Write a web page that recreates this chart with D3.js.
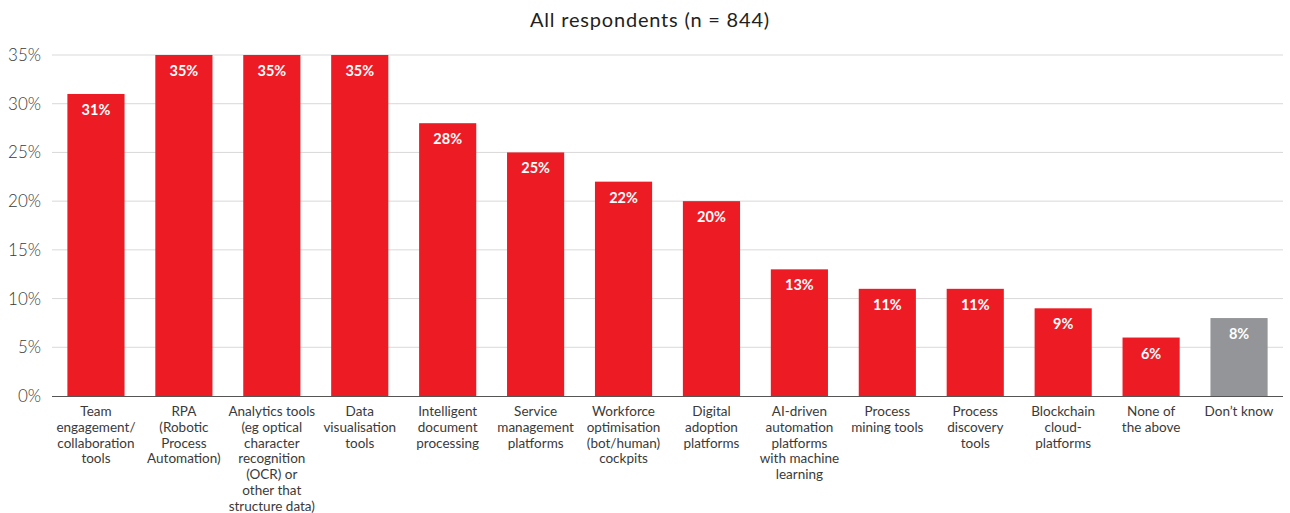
<!DOCTYPE html>
<html>
<head>
<meta charset="utf-8">
<script src="https://cdn.jsdelivr.net/npm/d3@7"></script>
<style>
  html, body { margin: 0; padding: 0; background: #fff; }
  svg { display: block; }
</style>
</head>
<body>
<svg id="chart" width="1290" height="513"></svg>
<script>
// Survey responses: share of respondents per technology
const categories = [
  ["Team", "engagement/", "collaboration", "tools"],
  ["RPA", "(Robotic", "Process", "Automation)"],
  ["Analytics tools", "(eg optical", "character", "recognition", "(OCR) or", "other that", "structure data)"],
  ["Data", "visualisation", "tools"],
  ["Intelligent", "document", "processing"],
  ["Service", "management", "platforms"],
  ["Workforce", "optimisation", "(bot/human)", "cockpits"],
  ["Digital", "adoption", "platforms"],
  ["AI-driven", "automation", "platforms", "with machine", "learning"],
  ["Process", "mining tools"],
  ["Process", "discovery", "tools"],
  ["Blockchain", "cloud-", "platforms"],
  ["None of", "the above"],
  ["Don\u2019t know"]
];
const values = [31, 35, 35, 35, 28, 25, 22, 20, 13, 11, 11, 9, 6, 8];
const yTicks = [0, 5, 10, 15, 20, 25, 30, 35];
const title = "All respondents (n = 844)";

const svg = d3.select("#chart");
const margin = { left: 52, right: 7, top: 55, bottom: 117 };
const W = 1290, H = 513;
const y0 = H - margin.bottom; // baseline

const x = d3.scaleBand()
  .domain(d3.range(values.length))
  .range([margin.left, W - margin.right])
  .paddingInner(0.35)
  .paddingOuter(0.175);

const y = d3.scaleLinear().domain([0, 35]).range([y0, margin.top]);

const font = "Lato, 'Open Sans', sans-serif";

// Title
svg.append("text")
  .attr("x", 650).attr("y", 27)
  .attr("text-anchor", "middle")
  .attr("font-family", font)
  .attr("font-size", 20)
  .attr("letter-spacing", 0.8)
  .attr("fill", "#231f20")
  .text(title);

// Gridlines
svg.append("g")
  .selectAll("line")
  .data(yTicks.filter(d => d > 0))
  .join("line")
  .attr("x1", margin.left).attr("x2", W - margin.right)
  .attr("y1", d => y(d)).attr("y2", d => y(d))
  .attr("stroke", "#d9d9d9").attr("stroke-width", 1);

// Y axis labels
const yAxis = d3.axisLeft(y).tickValues(yTicks).tickSize(0).tickPadding(11)
  .tickFormat(d => d + "%");
svg.append("g")
  .attr("transform", `translate(${margin.left},0)`)
  .call(yAxis)
  .call(g => g.select(".domain").remove())
  .call(g => g.selectAll("text")
    .attr("font-family", font)
    .attr("font-size", 17)
    .attr("font-weight", 300)
    .attr("fill", "#3a3a3a"));

// Bars
svg.append("g")
  .selectAll("rect")
  .data(values)
  .join("rect")
  .attr("x", (d, i) => x(i))
  .attr("width", x.bandwidth())
  .attr("y", d => y(d))
  .attr("height", d => y0 - y(d))
  .attr("fill", (d, i) => i === values.length - 1 ? "#939598" : "#ed1c24");

// Value labels inside bars
svg.append("g")
  .selectAll("text")
  .data(values)
  .join("text")
  .attr("x", (d, i) => x(i) + x.bandwidth() / 2)
  .attr("y", d => y(d) + 21)
  .attr("text-anchor", "middle")
  .attr("font-family", font)
  .attr("font-size", 14.5)
  .attr("font-weight", 700)
  .attr("fill", "#fff")
  .text(d => d + "%");

// Baseline axis
svg.append("line")
  .attr("x1", margin.left).attr("x2", W - margin.right)
  .attr("y1", y0 + 0.5).attr("y2", y0 + 0.5)
  .attr("stroke", "#555").attr("stroke-width", 1.2);

// Category labels
const labels = svg.append("g")
  .selectAll("text")
  .data(categories)
  .join("text")
  .attr("x", (d, i) => x(i) + x.bandwidth() / 2)
  .attr("y", y0 + 20)
  .attr("text-anchor", "middle")
  .attr("font-family", font)
  .attr("font-size", 13.5)
  .attr("fill", "#3a3a3a");
labels.selectAll("tspan")
  .data(d => d)
  .join("tspan")
  .attr("x", function () { return d3.select(this.parentNode).attr("x"); })
  .attr("dy", (d, i) => i === 0 ? 0 : 15.8)
  .text(d => d);
</script>
</body>
</html>
